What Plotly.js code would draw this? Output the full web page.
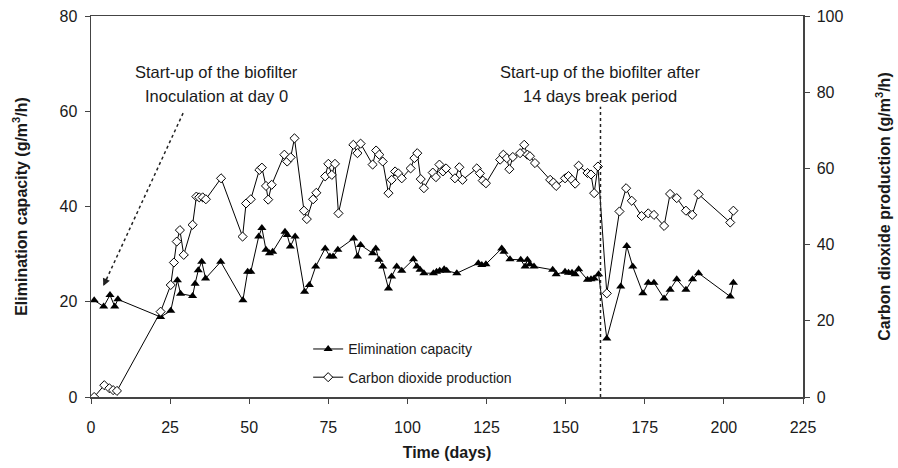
<!DOCTYPE html>
<html>
<head>
<meta charset="utf-8">
<script src="https://cdn.plot.ly/plotly-3.0.1.min.js"></script>
<style>html,body{margin:0;padding:0;background:#fff}#chart{width:898px;height:468px}</style>
</head>
<body>
<div id="chart"></div>
<script>
// Elimination capacity (left axis, g/m3/h)
const ecDays = [1,4,6,7.5,8.5,22,25.2,27.3,28.3,32.1,32.9,33.9,35,36.2,41,48,49.5,50.5,53,54,55.3,56.4,57.4,61.3,62,63,64.5,67.5,69,71,74,75.5,76.5,78,83,84.2,85.2,89,90,91,92.2,94,95,96.6,98.2,101.9,103,104,105.2,108.2,109.2,110.2,111.6,112.4,115.6,122.4,123.5,124.8,129.8,130.5,132.4,135.8,137.2,137.9,138.7,140,145.9,147,149.8,150.9,152,153,154.1,156.9,158,159,160.4,163,167.4,169.3,171.2,174.4,176.1,177.9,181.1,183,185.1,188,190.1,192,202,203];
const ecValues = [20.3,19.0,21.4,19.0,20.5,16.8,18.1,24.5,21.7,21.2,23.8,26.6,28.4,24.9,28.4,20.3,26.3,26.3,33.7,35.5,30.9,30.2,30.5,34.7,34.0,31.6,33.7,22.1,23.5,27.4,31.2,29.5,29.5,30.9,33.3,29.5,31.9,30.2,31.2,28.8,27.4,22.8,25.3,27.4,26.5,28.9,27.4,26.7,26.0,26.0,26.3,26.5,26.8,26.5,26.0,28.1,27.7,27.9,31.2,30.5,28.9,28.8,27.4,28.8,27.9,27.4,26.7,25.8,26.3,26.1,26.1,25.8,26.8,24.6,24.7,24.9,25.8,12.3,23.2,31.7,27.4,21.8,24.0,24.0,20.7,22.5,24.7,22.5,24.7,26.0,21.1,24.0];

// Carbon dioxide production (right axis, g/m3/h)
const co2Days = [1,4.2,5.8,7,8.2,22,25.2,26.2,27.1,28.1,29.3,32.1,33.3,34.2,35.3,36.3,41.1,47.9,49,50.5,53.2,54,55.3,56,57.1,61.1,62,63.1,64.3,67.3,68.2,70.2,71.2,74,75,76.1,77.1,78.2,82.9,84.2,85.2,89,90.1,91.1,92.2,94,95,96.1,97.1,98.2,101,102.2,103.1,104.2,105.2,108,109,110.1,111.2,112.2,115,116.4,117.4,121.9,122.9,123.8,124.8,129.3,130.3,131.4,132.2,133.3,135.6,136.9,137.9,138.7,140.3,145.1,146.1,147,149.8,150.9,152,153,154.1,156.9,158,159,160.2,163,167,169.1,170.9,174,176.1,177.9,181.1,183,185.1,188,190,192,202,203];
const co2Values = [0,3.1,2.3,1.8,1.6,22.4,29.4,35.3,40.8,43.8,37.3,45.2,52.6,52.4,52.4,51.9,57.4,42.1,50.8,51.9,59.6,60.2,55.4,51.8,55.7,63.6,61.8,62.9,67.9,48.9,46.7,51.9,53.6,57.9,61.2,58.3,61.2,48.2,66.2,64.0,66.5,61.0,64.7,63.6,61.8,53.5,57.0,59.2,58.7,57.4,60.0,62.7,64.0,57.2,54.8,58.9,57.7,61.0,59.2,60.0,57.4,60.3,57.0,60.0,58.7,56.8,56.1,62.3,63.6,62.7,59.8,63.0,64.0,66.2,63.6,63.2,61.4,57.0,56.3,55.4,57.4,58.0,57.0,56.0,60.7,58.8,58.4,53.5,60.5,27.2,48.7,54.8,51.5,47.5,48.2,47.8,44.9,53.3,52.2,48.9,47.8,53.2,45.8,48.9];

const seriesNames = ["Elimination capacity", "Carbon dioxide production"];
const xTicks = [0,25,50,75,100,125,150,175,200,225];
const leftTicks = [0,20,40,60,80];
const rightTicks = [0,20,40,60,80,100];

// annotation anchors (data units)
const inocArrowTail = [29.1, 59.6];
const inocArrowHead = [3.9, 23.3];
const breakDay = 161;

const font = "Liberation Sans, Arial, sans-serif";
const axisColor = "#444";
const txt = "#1a1a1a";

const traces = [
  {x: ecDays, y: ecValues, name: seriesNames[0], type: "scatter", mode: "lines+markers", legendgroup: "a",
   line: {color: "#000", width: 1}, marker: {symbol: "triangle-up", size: 8, color: "#000"}, yaxis: "y"},
  {x: co2Days, y: co2Values, name: seriesNames[1], type: "scatter", mode: "lines+markers", legendgroup: "b",
   line: {color: "#000", width: 1}, marker: {symbol: "diamond", size: 7, color: "#fff", line: {color: "#000", width: 1}}, yaxis: "y2"}
];

const layout = {
  width: 898, height: 468,
  margin: {l: 91, r: 95, t: 16, b: 71},
  paper_bgcolor: "#fff", plot_bgcolor: "#fff",
  font: {family: font, size: 16, color: txt},
  showlegend: true,
  legend: {x: 0.305, y: 0.167, xanchor: "left", yanchor: "top", bgcolor: "rgba(0,0,0,0)",
           font: {family: font, size: 14, color: txt}, tracegroupgap: 7, traceorder: "grouped"},
  xaxis: {range: [0, 225], tickvals: xTicks, showgrid: false, zeroline: false,
          showline: true, linecolor: axisColor, linewidth: 1.5, mirror: true,
          ticks: "outside", ticklen: 5, tickcolor: axisColor, ticklabelstandoff: 10,
          tickfont: {family: font, size: 16, color: txt},
          title: {text: "<b>Time (days)</b>", font: {family: font, size: 16, color: txt}, standoff: 12}},
  yaxis: {range: [0, 80], tickvals: leftTicks, showgrid: false, zeroline: false,
          showline: true, linecolor: axisColor, linewidth: 1.5,
          ticks: "outside", ticklen: 5, tickcolor: axisColor, ticklabelstandoff: 4,
          tickfont: {family: font, size: 16, color: txt},
          title: {text: "<b>Elimination capacity (g/m<sup>3</sup>/h)</b>", font: {family: font, size: 16, color: txt}, standoff: 28}},
  yaxis2: {range: [0, 100], tickvals: rightTicks, overlaying: "y", side: "right", showgrid: false, zeroline: false,
           showline: true, linecolor: axisColor, linewidth: 1.5,
           ticks: "outside", ticklen: 5, tickcolor: axisColor, ticklabelstandoff: 4,
           tickfont: {family: font, size: 16, color: txt},
           title: {text: "<b>Carbon dioxide production (g/m<sup>3</sup>/h)</b>", font: {family: font, size: 16, color: txt}, standoff: 36}},
  shapes: [
    {type: "line", xref: "x", yref: "y", x0: inocArrowTail[0], y0: inocArrowTail[1], x1: inocArrowHead[0], y1: inocArrowHead[1],
     line: {color: "#222", width: 1.5, dash: "dot"}},
    {type: "line", xref: "x", yref: "paper", x0: breakDay, x1: breakDay, y0: 0, y1: 0.762,
     line: {color: "#222", width: 1.5, dash: "dot"}}
  ],
  annotations: [
    {xref: "x", yref: "y", x: inocArrowHead[0], y: inocArrowHead[1], ax: 4, ay: -9, axref: "pixel", ayref: "pixel",
     showarrow: true, arrowhead: 2, arrowsize: 1, arrowwidth: 1.5, arrowcolor: "#222", text: ""},
    {xref: "x", yref: "paper", x: 39.6, y: 0.852, xanchor: "center", yanchor: "middle", showarrow: false,
     text: "Start-up of the biofilter", font: {family: font, size: 16.5, color: txt}},
    {xref: "x", yref: "paper", x: 39.6, y: 0.789, xanchor: "center", yanchor: "middle", showarrow: false,
     text: "Inoculation at day 0", font: {family: font, size: 16.5, color: txt}},
    {xref: "x", yref: "paper", x: breakDay, y: 0.852, xanchor: "center", yanchor: "middle", showarrow: false,
     text: "Start-up of the biofilter after", font: {family: font, size: 16.5, color: txt}},
    {xref: "x", yref: "paper", x: breakDay, y: 0.789, xanchor: "center", yanchor: "middle", showarrow: false,
     text: "14 days break period", font: {family: font, size: 16.5, color: txt}}
  ]
};

Plotly.newPlot("chart", traces, layout, {displayModeBar: false, staticPlot: true});
</script>
</body>
</html>
